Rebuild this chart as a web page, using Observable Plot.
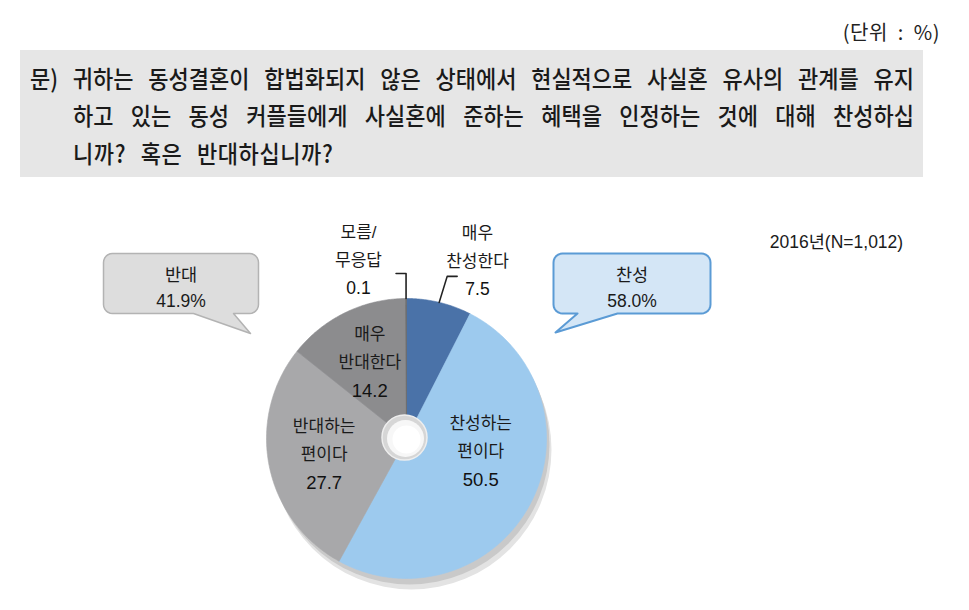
<!DOCTYPE html>
<html>
<head>
<meta charset="utf-8">
<script src="https://cdn.jsdelivr.net/npm/d3@7"></script>
<script src="https://cdn.jsdelivr.net/npm/@observablehq/plot@0.6"></script>
<style>
  body { margin: 0; background: #fff; color: #222; font-family: "Noto Sans CJK KR", "Noto Sans", sans-serif; }
  #head { position: relative; width: 969px; height: 185px; }
  #unit { position: absolute; right: 29px; top: 19px; font-size: 20px; line-height: 26px; white-space: pre; letter-spacing: 0.5px; }
  #qbox { position: absolute; left: 20px; top: 50px; width: 903px; height: 127px; background: #e6e6e6; }
  .q { position: absolute; font-size: 22px; line-height: 26px; white-space: nowrap; color: #1a1a1a; font-weight: 500; transform: scaleY(1.1); transform-origin: 50% 50%; }
  .q.just { text-align: justify; text-align-last: justify; white-space: normal; }
  #chart { width: 969px; height: 425px; }
</style>
</head>
<body>
<div id="head">
  <div id="unit"></div>
  <div id="qbox"></div>
  <div class="q just" id="q1" style="left:30px; top:64px; width:884px;"></div>
  <div class="q just" id="q2" style="left:73px; top:101px; width:841px;"></div>
  <div class="q" id="q3" style="left:73px; top:139px; word-spacing:9px; letter-spacing:0.6px;"></div>
</div>
<div id="chart"></div>
<script>
// ---- data ----
const categories = ["매우 찬성한다", "찬성하는 편이다", "반대하는 편이다", "매우 반대한다", "모름/무응답"];
const values = [7.5, 50.5, 27.7, 14.2, 0.1];
const labelLines = [["매우", "찬성한다"], ["찬성하는", "편이다"], ["반대하는", "편이다"], ["매우", "반대한다"], ["모름/", "무응답"]];
const groupOf = ["찬성", "찬성", "반대", "반대", null];
const groupNames = ["반대", "찬성"];
const surveyNote = "2016년(N=1,012)";
const unitLabel = "(단위 : %)";
const questionLines = [
  "문) 귀하는 동성결혼이 합법화되지 않은 상태에서 현실적으로 사실혼 유사의 관계를 유지",
  "하고 있는 동성 커플들에게 사실혼에 준하는 혜택을 인정하는 것에 대해 찬성하십",
  "니까? 혹은 반대하십니까?"
];

// ---- header ----
document.getElementById("unit").textContent = unitLabel.replace(" : ", "  :  ");
["q1", "q2", "q3"].forEach((id, i) => document.getElementById(id).textContent = questionLines[i]);

// ---- styles / layout ----
const palette = ["#4a72a8", "#9dcaee", "#a8a8aa", "#8c8c8e", "#6a6a6a"];
const FONT = "'Liberation Sans', 'Noto Sans CJK KR', sans-serif";
const CX = 406, CY = 438, R = 140;
const polar = (r, a) => [CX + r * Math.sin(a), CY - r * Math.cos(a)];

const rows = categories.map((c, i) => ({cat: c, value: values[i], lines: labelLines[i], group: groupOf[i], color: palette[i]}));
const arcs = d3.pie().sort(null).value(d => d.value)(rows);

// slice polygons
const sliceMarks = arcs.map(a => {
  const pts = [{x: CX, y: CY}];
  const n = Math.max(2, Math.ceil((a.endAngle - a.startAngle) / 0.01));
  for (let i = 0; i <= n; i++) {
    const [x, y] = polar(R, a.startAngle + (a.endAngle - a.startAngle) * i / n);
    pts.push({x, y});
  }
  pts.push({x: CX, y: CY});
  return Plot.line(pts, {x: "x", y: "y", fill: a.data.color, stroke: a.data.color, strokeWidth: 0.6, curve: "linear"});
});

// label rows: split into word lines and number line
const wordRows = [], numRows = [];
function pushLabel(x, yc, d, gap, big) {
  d.lines.forEach((t, i) => wordRows.push({x, y: yc + (i - 1) * gap, text: t}));
  numRows.push({x, y: yc + gap, text: d.value.toFixed(1), big});
}

// inside labels (large slices)
arcs.filter(a => a.data.value >= 10).forEach(a => {
  const mid = (a.startAngle + a.endAngle) / 2;
  let [x, y] = polar(R * 0.6, mid);
  if (a.data.cat === "찬성하는 편이다") y -= 26;
  pushLabel(x, y, a.data, 28.5, true);
});

// outside labels (small slices) with leader lines
const outsideCfg = {
  "모름/무응답": {elbow: [0, -25], end: [-10, -25], label: [358, 260]},
  "매우 찬성한다": {elbow: [8, -26], end: [18, -26], label: [477, 261]}
};
const leaders = [];
arcs.filter(a => a.data.value < 10).forEach(a => {
  const cfg = outsideCfg[a.data.cat];
  const mid = (a.startAngle + a.endAngle) / 2;
  const [ex, ey] = polar(R, mid);
  leaders.push({k: a.data.cat, x: ex, y: ey});
  leaders.push({k: a.data.cat, x: ex + cfg.elbow[0], y: ey + cfg.elbow[1]});
  leaders.push({k: a.data.cat, x: ex + cfg.end[0], y: ey + cfg.end[1]});
  pushLabel(cfg.label[0], cfg.label[1], a.data, 27.5, false);
});

// callout bubbles
function bubble(x0, y0, x1, y1, r, b0, b1, tip) {
  const pts = [];
  const arc = (cx, cy, a0, a1) => { for (let i = 0; i <= 6; i++) { const a = a0 + (a1 - a0) * i / 6; pts.push({x: cx + r * Math.cos(a), y: cy + r * Math.sin(a)}); } };
  arc(x0 + r, y0 + r, Math.PI, 1.5 * Math.PI);
  arc(x1 - r, y0 + r, 1.5 * Math.PI, 2 * Math.PI);
  arc(x1 - r, y1 - r, 0, 0.5 * Math.PI);
  pts.push({x: Math.max(b0, b1), y: y1}, {x: tip[0], y: tip[1]}, {x: Math.min(b0, b1), y: y1});
  arc(x0 + r, y1 - r, 0.5 * Math.PI, Math.PI);
  pts.push(pts[0]);
  return pts;
}
const bubbleCfg = {
  "반대": {box: [103, 253, 258, 313], base: [193, 233], tip: [250, 333], fill: "#dddddd", stroke: "#b3b3b3", sw: 1.5},
  "찬성": {box: [553, 253, 710, 313], base: [577, 617], tip: [555, 332], fill: "#d4e6f6", stroke: "#5b9bd5", sw: 2}
};
const bubbleMarks = [], bubbleText = [];
groupNames.forEach(g => {
  const c = bubbleCfg[g];
  const pts = bubble(c.box[0], c.box[1], c.box[2], c.box[3], 9, c.base[0], c.base[1], c.tip);
  bubbleMarks.push(Plot.line(pts, {x: "x", y: "y", fill: c.fill, stroke: c.stroke, strokeWidth: c.sw, curve: "linear"}));
  const total = d3.sum(rows.filter(r => r.group === g), r => r.value);
  bubbleText.push({x: (c.box[0] + c.box[2]) / 2, y: (c.box[1] + c.box[3]) / 2 + 2, text: g + "\n" + total.toFixed(1) + "%"});
});

const plot = Plot.plot({
  width: 969, height: 425,
  margin: 0,
  x: {domain: [0, 969], range: [0, 969], axis: null},
  y: {domain: [185, 610], range: [0, 425], axis: null},
  style: {fontFamily: FONT, background: "transparent", overflow: "visible"},
  marks: [
    // pie shadow rim
    Plot.dot([{x: CX + 5, y: CY + 11}], {x: "x", y: "y", r: R, fill: "#e3e3e3", stroke: "none"}),
    Plot.dot([{x: CX + 3, y: CY + 6}], {x: "x", y: "y", r: R, fill: "#c9c9c9", stroke: "none"}),
    ...sliceMarks,
    // hole
    Plot.dot([{x: CX - 2, y: CY - 1}], {x: "x", y: "y", r: 22.5, fill: "#d6d6d6", stroke: "#eeeeee", strokeWidth: 1.5}),
    Plot.dot([{x: CX - 1, y: CY}], {x: "x", y: "y", r: 18.5, fill: "#f7f7f7", stroke: "none"}),
    Plot.dot([{x: CX, y: CY + 1}], {x: "x", y: "y", r: 14, fill: "#ffffff", stroke: "none"}),
    ...bubbleMarks,
    Plot.line(leaders, {x: "x", y: "y", z: "k", stroke: "#222", strokeWidth: 1.6, curve: "linear"}),
    Plot.text(wordRows, {x: "x", y: "y", text: "text", fontSize: 17, fill: "#1a1a1a"}),
    Plot.text(numRows.filter(d => d.big), {x: "x", y: "y", text: "text", fontSize: 18.5, fill: "#111"}),
    Plot.text(numRows.filter(d => !d.big), {x: "x", y: "y", text: "text", fontSize: 17.5, fill: "#111"}),
    Plot.text(bubbleText, {x: "x", y: "y", text: "text", fontSize: 17.5, lineHeight: 1.5, fill: "#1a1a1a", lineAnchor: "middle"}),
    Plot.text([surveyNote], {x: () => 836, y: () => 242, text: d => d, fontSize: 17.5, fill: "#1a1a1a"})
  ]
});
document.getElementById("chart").appendChild(plot);
</script>
</body>
</html>
